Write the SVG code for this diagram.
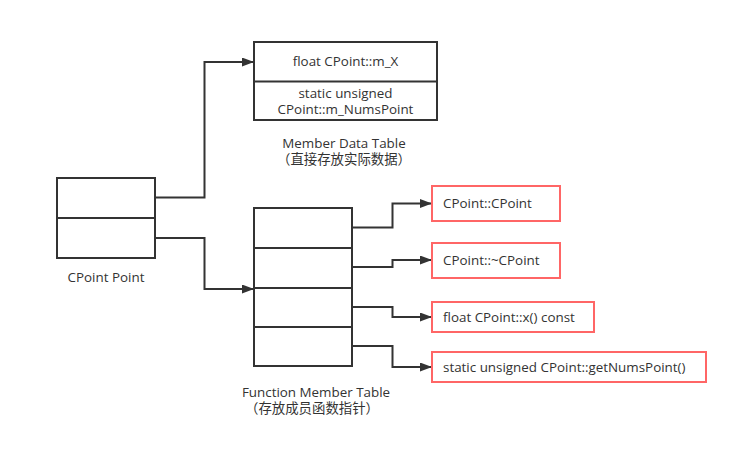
<svg xmlns="http://www.w3.org/2000/svg" width="737" height="458" viewBox="0 0 737 458">
<style>
.box{fill:#fff;stroke:#333;stroke-width:2}
.red{fill:#fff;stroke:#ff6666;stroke-width:2}
.div{stroke:#333;stroke-width:2}
.t{font-family:"Open Sans","Noto Sans CJK SC",sans-serif;font-size:13.4px;fill:#333}
.c{text-anchor:middle}
.con{fill:none;stroke:#333;stroke-width:2}
</style>
<defs>
<marker id="ah" markerWidth="12" markerHeight="9" refX="11" refY="4.5" orient="auto" markerUnits="userSpaceOnUse">
<path d="M0,0 L12,4.5 L0,9 Z" fill="#333"/>
</marker>
</defs>
<rect width="737" height="458" fill="#fff"/>
<g id="connectors">
<path class="con" d="M155,197.5 H204.5 V62 H253" marker-end="url(#ah)"/>
<path class="con" d="M155,238 H204.5 V289 H253" marker-end="url(#ah)"/>
<path class="con" d="M352,227.5 H392.5 V203.5 H431" marker-end="url(#ah)"/>
<path class="con" d="M352,267 H392.5 V260 H431" marker-end="url(#ah)"/>
<path class="con" d="M352,307 H392.5 V317 H431" marker-end="url(#ah)"/>
<path class="con" d="M352,346 H392.5 V367 H431" marker-end="url(#ah)"/>
</g>
<g id="cpoint">
<rect class="box" x="57" y="178" width="98" height="80"/>
<line class="div" x1="57" y1="218" x2="155" y2="218"/>
<text class="t c" x="106" y="282">CPoint Point</text>
</g>
<g id="member-data-table">
<rect class="box" x="254" y="42" width="183" height="78"/>
<line class="div" x1="254" y1="81.5" x2="437" y2="81.5"/>
<text class="t c" x="345.5" y="66">float CPoint::m_X</text>
<text class="t c" x="345.5" y="98">static unsigned</text>
<text class="t c" x="345.5" y="114">CPoint::m_NumsPoint</text>
<text class="t c" x="344" y="148">Member Data Table</text>
<text class="t c" x="344" y="164">（直接存放实际数据）</text>
</g>
<g id="function-member-table">
<rect class="box" x="254" y="208" width="98" height="158"/>
<line class="div" x1="254" y1="248" x2="352" y2="248"/>
<line class="div" x1="254" y1="288" x2="352" y2="288"/>
<line class="div" x1="254" y1="327" x2="352" y2="327"/>
<text class="t c" x="316" y="397">Function Member Table</text>
<text class="t c" x="312" y="413">（存放成员函数指针）</text>
</g>
<g id="ctor">
<rect class="red" x="432" y="186" width="128" height="35"/>
<text class="t" x="443" y="208">CPoint::CPoint</text>
</g>
<g id="dtor">
<rect class="red" x="432" y="243" width="128" height="35"/>
<text class="t" x="443" y="265">CPoint::~CPoint</text>
</g>
<g id="getx">
<rect class="red" x="432" y="302" width="162" height="30"/>
<text class="t" x="443" y="322">float CPoint::x() const</text>
</g>
<g id="getnums">
<rect class="red" x="432" y="352" width="274" height="30"/>
<text class="t" x="443" y="372">static unsigned CPoint::getNumsPoint()</text>
</g>
</svg>
